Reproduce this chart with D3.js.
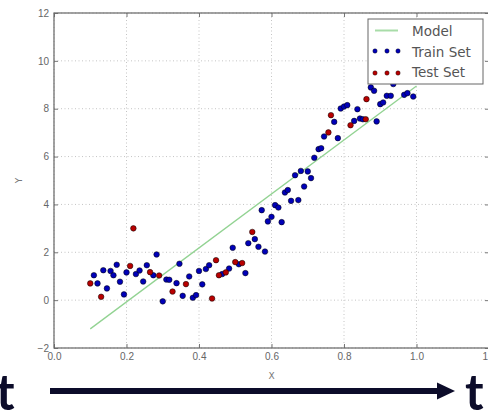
<!DOCTYPE html>
<html lang="en">
<head>
<meta charset="UTF-8" />
<title>Train / Test</title>
<style>
  body { margin: 0; background: #fff; }
  svg { display: block; font-family: "DejaVu Sans", sans-serif; }
  .tick text { fill: #666; font-size: 10px; }
</style>
</head>
<body>
<script src="https://cdn.jsdelivr.net/npm/d3@7"></script>
<div id="app"></div>
<script>
// data
const trainX = [0.11,0.12,0.136,0.146,0.156,0.164,0.173,0.182,0.193,0.20,0.226,0.236,0.246,0.256,0.274,0.283,0.30,0.31,0.318,0.338,
  0.346,0.355,0.373,0.383,0.392,0.40,0.409,0.419,0.428,0.464,0.483,0.493,0.51,0.528,0.536,0.554,0.564,0.573,0.582,0.59,
  0.60,0.61,0.619,0.628,0.637,0.645,0.654,0.665,0.674,0.681,0.69,0.70,0.709,0.718,0.73,0.737,0.745,0.773,0.783,0.791,
  0.80,0.809,0.828,0.837,0.844,0.852,0.874,0.883,0.89,0.90,0.908,0.918,0.929,0.936,0.966,0.975,0.991];
const trainY = [1.04,0.70,1.25,0.49,1.22,1.04,1.48,0.77,0.24,1.16,1.09,1.24,0.78,1.46,1.04,1.91,-0.05,0.86,0.85,0.71,
  1.52,0.18,0.99,0.10,0.21,1.22,0.66,1.30,1.46,1.09,1.32,2.19,1.50,1.13,2.38,2.55,2.23,3.76,2.03,3.29,
  3.48,3.97,3.87,3.26,4.50,4.60,4.15,5.22,4.18,5.40,4.75,5.38,5.10,5.95,6.31,6.35,6.84,7.45,6.77,8.01,
  8.09,8.15,7.49,7.98,7.59,7.56,8.89,8.75,7.47,8.19,8.26,8.54,8.54,9.03,8.58,8.65,8.51];
const testX = [0.10,0.13,0.21,0.219,0.265,0.29,0.327,0.364,0.436,0.447,0.455,0.474,0.50,0.519,0.547,0.757,0.764,0.818,0.86,0.862];
const testY = [0.70,0.14,1.43,3.0,1.17,1.03,0.36,0.67,0.07,1.67,1.04,1.16,1.59,1.55,2.85,7.01,7.73,7.31,7.56,8.40];
const modelX = [0.1, 1.0];
const modelY = [-1.2, 8.95];
const xTicks = [0.0, 0.2, 0.4, 0.6, 0.8, 1.0, 1.2];
const yTicks = [-2, 0, 2, 4, 6, 8, 10, 12];
const legendNames = ["Model", "Train Set", "Test Set"];

const W = 488, H = 412;
const m = { left: 54, top: 13, right: 489, bottom: 348 };

const svg = d3.select("#app").append("svg")
  .attr("width", W).attr("height", H)
  .style("overflow", "hidden");

const x = d3.scaleLinear().domain([0, 1.2]).range([m.left, m.right]);
const y = d3.scaleLinear().domain([-2, 12]).range([m.bottom, m.top]);

//grid
svg.append("g").selectAll("line").data(xTicks).enter().append("line")
  .attr("x1", d => x(d)).attr("x2", d => x(d))
  .attr("y1", m.top).attr("y2", m.bottom)
  .attr("stroke", "#c4c4c4").attr("stroke-dasharray", "1,2.5");
svg.append("g").selectAll("line").data(yTicks).enter().append("line")
  .attr("y1", d => y(d)).attr("y2", d => y(d))
  .attr("x1", m.left).attr("x2", m.right)
  .attr("stroke", "#c4c4c4").attr("stroke-dasharray", "1,2.5");

//axes
svg.append("g")
  .attr("transform", "translate(0," + m.bottom + ")")
  .call(d3.axisBottom(x).tickValues(xTicks).tickFormat(d3.format(".1f")).tickSizeInner(-4).tickSizeOuter(0).tickPadding(5));
svg.append("g")
  .attr("transform", "translate(" + m.left + ",0)")
  .call(d3.axisLeft(y).tickValues(yTicks).tickFormat(d => d < 0 ? "\u2212" + (-d) : d).tickSizeInner(-4).tickSizeOuter(0).tickPadding(5));
svg.append("g")
  .attr("transform", "translate(0," + m.top + ")")
  .call(d3.axisTop(x).tickValues(xTicks).tickFormat("").tickSizeInner(-4).tickSizeOuter(0));
svg.append("g")
  .attr("transform", "translate(" + m.right + ",0)")
  .call(d3.axisRight(y).tickValues(yTicks).tickFormat("").tickSizeInner(-4).tickSizeOuter(0));
svg.selectAll(".domain").remove();
svg.selectAll(".tick line").attr("stroke", "#777");

svg.append("rect")
  .attr("x", m.left).attr("y", m.top)
  .attr("width", m.right - m.left).attr("height", m.bottom - m.top)
  .attr("fill", "none").attr("stroke", "#666").attr("stroke-width", 1.2);

svg.append("text").attr("x", x(0.6)).attr("y", 379)
  .attr("text-anchor", "middle").attr("font-size", 9).attr("fill", "#777").text("X");
svg.append("text").attr("transform", "translate(22," + y(5) + ") rotate(-90)")
  .attr("text-anchor", "middle").attr("font-size", 9).attr("fill", "#777").text("Y");

//model line
svg.append("path")
  .datum(modelX.map((d, i) => [d, modelY[i]]))
  .attr("d", d3.line().x(d => x(d[0])).y(d => y(d[1])))
  .attr("fill", "none").attr("stroke", "#92d392").attr("stroke-width", 1.3);

//points
const dot = (xs, ys, col) => svg.append("g").selectAll("circle")
  .data(xs.map((d, i) => [d, ys[i]])).enter().append("circle")
  .attr("cx", d => x(d[0])).attr("cy", d => y(d[1])).attr("r", 2.8)
  .attr("fill", col).attr("stroke", "#000").attr("stroke-width", 0.5);
dot(trainX, trainY, "#0000b8");
dot(testX, testY, "#b80000");

//legend
const lg = svg.append("g").attr("transform", "translate(368,19)");
lg.append("rect").attr("width", 115).attr("height", 65)
  .attr("fill", "#fff").attr("stroke", "#666").attr("stroke-width", 1);
lg.append("line").attr("x1", 7).attr("x2", 30).attr("y1", 11.5).attr("y2", 11.5)
  .attr("stroke", "#a8dca8").attr("stroke-width", 2);
[["#0000b8", 32], ["#b80000", 54]].forEach(([c, yy]) => {
  [7, 19, 30].forEach(xx => lg.append("circle").attr("cx", xx).attr("cy", yy).attr("r", 2.2)
    .attr("fill", c).attr("stroke", "#000").attr("stroke-width", 0.4));
});
lg.selectAll("text.lab").data(legendNames).enter().append("text")
  .attr("x", 44).attr("y", (d, i) => 17 + i * 20.5)
  .attr("font-size", 13.5).attr("fill", "#555").text(d => d);

//time arrow
const ink = "#0c0c2a";
svg.append("line").attr("x1", 50).attr("x2", 440).attr("y1", 391).attr("y2", 391)
  .attr("stroke", ink).attr("stroke-width", 6);
svg.append("path").attr("d", "M437,382.5 L455,391 L437,399.5 Z").attr("fill", ink);
svg.append("text").attr("x", -4).attr("y", 410).attr("font-family", "Lato, 'Open Sans', sans-serif")
  .attr("font-weight", "bold").attr("font-size", 50).attr("fill", ink).text("t");
svg.append("text").attr("x", 465).attr("y", 410).attr("font-family", "Lato, 'Open Sans', sans-serif")
  .attr("font-weight", "bold").attr("font-size", 50).attr("fill", ink).text("t");
</script>
</body>
</html>
